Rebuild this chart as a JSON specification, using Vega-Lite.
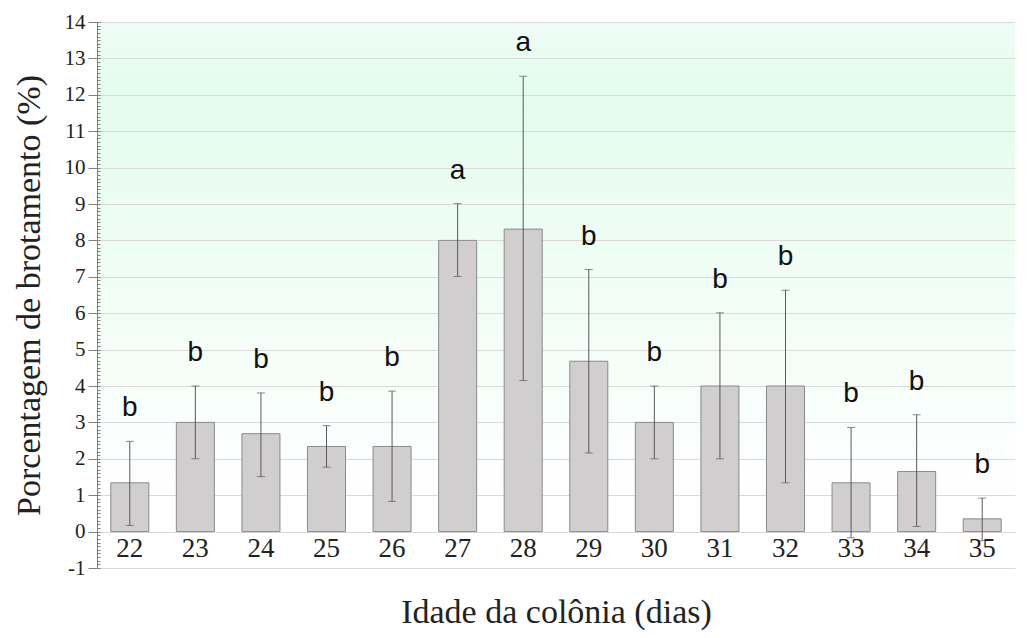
{
  "$schema": "https://vega.github.io/schema/vega-lite/v6.json",
  "width": 918,
  "height": 546,
  "autosize": {"type": "none"},
  "padding": {"left": 97, "top": 22, "right": 12, "bottom": 70},
  "background": "white",
  "config": {
    "axis": {
      "labelFont": "Liberation Serif",
      "titleFont": "Liberation Serif",
      "labelColor": "#222222",
      "titleColor": "#222222",
      "titleFontWeight": "normal"
    },
    "view": {
      "stroke": null,
      "fill": {
        "gradient": "linear",
        "x1": 0, "y1": 0, "x2": 0, "y2": 1,
        "stops": [
          {"offset": 0, "color": "#effdf6"},
          {"offset": 0.12, "color": "#e4fcee"},
          {"offset": 0.88, "color": "#ffffff"},
          {"offset": 1, "color": "#ffffff"}
        ]
      }
    }
  },
  "data": {
    "values": [
      {"idade": "22", "media": 1.34, "inf": 0.17, "sup": 2.48, "letra": "b"},
      {"idade": "23", "media": 3.0, "inf": 2.0, "sup": 4.0, "letra": "b"},
      {"idade": "24", "media": 2.69, "inf": 1.51, "sup": 3.81, "letra": "b"},
      {"idade": "25", "media": 2.34, "inf": 1.77, "sup": 2.91, "letra": "b"},
      {"idade": "26", "media": 2.34, "inf": 0.83, "sup": 3.86, "letra": "b"},
      {"idade": "27", "media": 8.0, "inf": 7.01, "sup": 9.01, "letra": "a"},
      {"idade": "28", "media": 8.31, "inf": 4.15, "sup": 12.51, "letra": "a"},
      {"idade": "29", "media": 4.68, "inf": 2.16, "sup": 7.2, "letra": "b"},
      {"idade": "30", "media": 3.0, "inf": 2.0, "sup": 4.0, "letra": "b"},
      {"idade": "31", "media": 4.0, "inf": 2.0, "sup": 6.01, "letra": "b"},
      {"idade": "32", "media": 4.0, "inf": 1.34, "sup": 6.63, "letra": "b"},
      {"idade": "33", "media": 1.34, "inf": -0.17, "sup": 2.86, "letra": "b"},
      {"idade": "34", "media": 1.65, "inf": 0.14, "sup": 3.21, "letra": "b"},
      {"idade": "35", "media": 0.35, "inf": -0.25, "sup": 0.92, "letra": "b"}
    ]
  },
  "encoding": {
    "x": {
      "field": "idade",
      "type": "nominal",
      "scale": {"paddingInner": 0.42, "paddingOuter": 0.21},
      "axis": {
        "title": "Idade da colônia (dias)",
        "labelAngle": 0,
        "labelFontSize": 27,
        "labelPadding": 4,
        "ticks": false,
        "domain": false,
        "offset": -37,
        "zindex": 1,
        "titleFontSize": 34,
        "titlePadding": 34
      }
    }
  },
  "resolve": {"axis": {"y": "independent"}},
  "layer": [
    {
      "mark": {"type": "bar", "fill": "#d0cece", "stroke": "#8a8a8a", "strokeWidth": 1},
      "encoding": {
        "y": {
          "field": "media",
          "type": "quantitative",
          "scale": {"domain": [-1, 14], "nice": false, "zero": false},
          "axis": {
            "orient": "left",
            "title": "Porcentagem de brotamento (%)",
            "values": [-1, 0, 1, 2, 3, 4, 5, 6, 7, 8, 9, 10, 11, 12, 13, 14],
            "labelExpr": "replace(datum.label, '−', '-')",
            "labelOverlap": false,
            "grid": true,
            "gridColor": "#d9d9d9",
            "gridWidth": 1,
            "domainColor": "#808080",
            "tickColor": "#808080",
            "tickSize": 9,
            "labelFontSize": 21,
            "labelPadding": 3,
            "titleFontSize": 34,
            "titlePadding": 18
          }
        },
        "y2": {"datum": 0}
      }
    },
    {
      "mark": {"type": "rule", "color": "#595959", "strokeWidth": 1},
      "encoding": {
        "y": {
          "field": "inf",
          "type": "quantitative",
          "axis": {
            "orient": "left",
            "title": null,
            "tickCount": 150,
            "labels": false,
            "grid": false,
            "domain": false,
            "tickColor": "#808080",
            "tickSize": -3,
            "zindex": 1
          }
        },
        "y2": {"field": "sup"}
      }
    },
    {
      "mark": {"type": "tick", "color": "#595959", "size": 8, "thickness": 1},
      "encoding": {"y": {"field": "inf", "type": "quantitative", "axis": null}}
    },
    {
      "mark": {"type": "tick", "color": "#595959", "size": 8, "thickness": 1},
      "encoding": {"y": {"field": "sup", "type": "quantitative", "axis": null}}
    },
    {
      "mark": {"type": "text", "font": "Liberation Sans", "fontSize": 28, "color": "#111111", "baseline": "alphabetic", "dy": -25},
      "encoding": {
        "y": {"field": "sup", "type": "quantitative", "axis": null},
        "text": {"field": "letra"}
      }
    }
  ]
}
